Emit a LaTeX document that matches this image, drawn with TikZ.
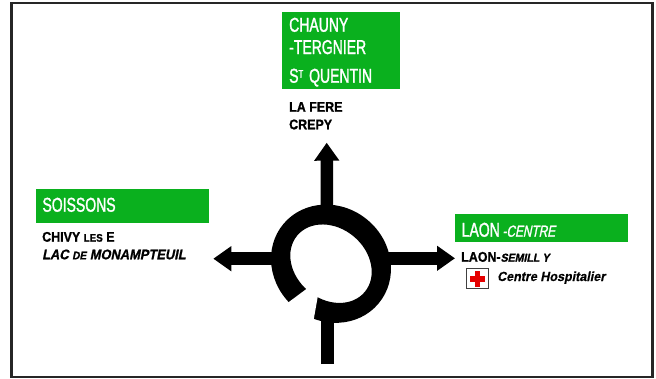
\documentclass[tikz,border=0pt]{standalone}
\usepackage{fontspec}
\setmainfont{Liberation Sans}
\newfontfamily\signfont[FakeStretch=0.70,FakeBold=1.4]{Liberation Sans}
\newfontfamily\signit[FakeStretch=0.74,FakeSlant=0.2,FakeBold=1.2]{Liberation Sans}
\newfontfamily\blackfont[FakeStretch=0.89,FakeBold=1.0]{Liberation Sans Bold}
\newfontfamily\blackit[FakeStretch=0.92,FakeSlant=0.2,FakeBold=1.0]{Liberation Sans Bold}
\newfontfamily\hospfont[FakeStretch=0.95,FakeSlant=0.2,FakeBold=0.5]{Liberation Sans Bold}
\usetikzlibrary{arrows.meta}
\definecolor{signgreen}{HTML}{0AB01E}
\tikzset{
  signbox/.style={fill=signgreen,draw=none,inner sep=0pt,anchor=north west},
  signtext/.style={inner sep=0pt,anchor=base west,text=white,font=\signfont\fontsize{20}{20}\selectfont},
  destext/.style={inner sep=0pt,anchor=base west,text=black,font=\blackfont\fontsize{14}{14}\selectfont},
  hosptext/.style={inner sep=0pt,anchor=base west,text=black,font=\hospfont\fontsize{13.2}{13.2}\selectfont},
  exitarrow/.style={line width=12.5pt,-{Triangle[length=18pt,width=24pt]}},
  entryroad/.style={line width=13pt},
}
\begin{document}
\begin{tikzpicture}[x=1pt,y=-1pt]
\useasboundingbox (0,0) rectangle (656,378);
\fill[white] (0,0) rectangle (656,378);
\draw[line width=2.2pt,black!85] (11.5,2.8) rectangle (652.5,377);

% green signs
\node[signbox,minimum width=118pt,minimum height=77pt] (topsign) at (282,12) {};
\node[signbox,minimum width=173pt,minimum height=33.7pt] (leftsign) at (36,189) {};
\node[signbox,minimum width=172.7pt,minimum height=27.7pt] (rightsign) at (455,214) {};

\node[signtext] (chauny) at (289,31.7) {CHAUNY};
\node[signtext] (tergnier) at (289,54) {-TERGNIER};
\node[signtext] (quentin) at (289,82.7) {S\raisebox{5pt}{\fontsize{11}{11}\selectfont T}\hspace{2pt} QUENTIN};
\node[signtext] (soissons) at (42.3,211.7) {SOISSONS};
\node[signtext] (laoncentre) at (461.5,236.7) {LAON{\signit\fontsize{16}{16}\selectfont\,-CENTRE}};

\node[destext] (lafere) at (289,111.7) {LA FERE};
\node[destext] (crepy) at (289,129.3) {CREPY};
\node[destext] (chivy) at (42,241.7) {CHIVY {\fontsize{11}{11}\selectfont LES} E};
\node[destext] (lac) at (42,259.3) {\blackit LAC {\fontsize{11}{11}\selectfont DE} MONAMPTEUIL};
\node[destext] (laonsemilly) at (461,261.7) {LAON-{\blackit\fontsize{11.5}{11.5}\selectfont SEMILL Y}};
\node[hosptext] (hospital) at (497,281) {Centre Hospitalier};

% hospital icon
\node[draw=black!75,line width=1.3pt,fill=white,minimum width=21.5pt,minimum height=20pt,inner sep=0pt] (icon) at (477.5,278.5) {};
\fill[red!90!black] (470,276) rectangle (485,281.5);
\fill[red!90!black] (474.7,271) rectangle (480.3,286.5);

% roundabout ring
\coordinate (ringcentre) at (331,263.7);
\fill[black,even odd rule] (ringcentre) ellipse [x radius=62,y radius=57,rotate=-40]
                           (ringcentre) ellipse [x radius=44,y radius=35.5,rotate=-40];
% gap of the ring
\fill[white] (312,284.8) -- (319,289.6) -- (312,329) -- (280,308.6) -- cycle;

% connectors
\coordinate (ringtop) at (327,208);
\coordinate (ringleft) at (273,258.7);
\coordinate (ringright) at (388,258.3);
\coordinate (ringbottom) at (327.7,317);
\coordinate (uptip) at (326.7,142.7);
\coordinate (lefttip) at (213.3,258.7);
\coordinate (righttip) at (455,258.3);
\coordinate (roadstart) at (327.7,364);
\draw[exitarrow] (ringtop) -- (uptip);
\draw[exitarrow] (ringleft) -- (lefttip);
\draw[exitarrow] (ringright) -- (righttip);
\draw[entryroad] (roadstart) -- (ringbottom);
\end{tikzpicture}
\end{document}
